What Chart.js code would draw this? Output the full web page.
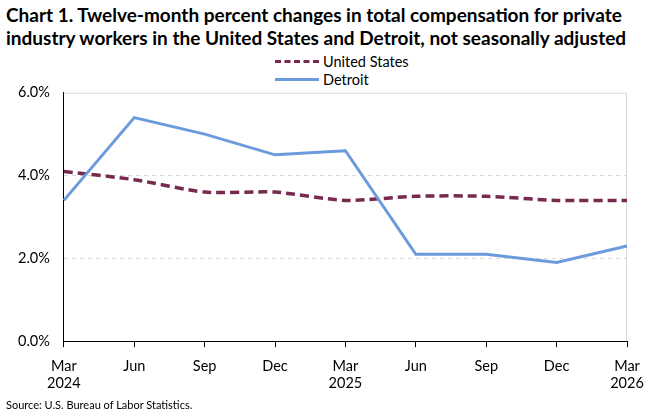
<!DOCTYPE html>
<html>
<head>
<meta charset="utf-8">
<script src="https://cdn.jsdelivr.net/npm/chart.js@4.4.1/dist/chart.umd.min.js"></script>
<style>
  body { margin:0; width:668px; height:413px; background:#fff; font-family:Lato, "Open Sans", sans-serif; position:relative; overflow:hidden; }
  #title { position:absolute; left:6px; top:3px; font-weight:bold; font-size:19px; line-height:23px; color:#000; white-space:nowrap; }
  #legend { position:absolute; left:275px; top:52px; font-size:14.5px; color:#000; }
  #legend .item { display:flex; align-items:center; height:18px; }
  #legend .sw { width:44px; height:0; margin-right:4px; }
  #wrap { position:absolute; left:0; top:70px; width:668px; height:332px; }
  #source { position:absolute; left:6px; top:398px; font-size:11px; color:#000; }
</style>
</head>
<body>
<div id="title">Chart 1. Twelve-month percent changes in total compensation for private<br>industry workers in the United States and Detroit, not seasonally adjusted</div>
<div id="legend"></div>
<div id="wrap"><canvas id="chart"></canvas></div>
<div id="source">Source: U.S. Bureau of Labor Statistics.</div>
<script>
// Données
const labels = [["Mar","2024"],"Jun","Sep","Dec",["Mar","2025"],"Jun","Sep","Dec",["Mar","2026"]];
const unitedStates = [4.1, 3.9, 3.6, 3.6, 3.4, 3.5, 3.5, 3.4, 3.4];
const detroit = [3.4, 5.4, 5.0, 4.5, 4.6, 2.1, 2.1, 1.9, 2.3];
const yTicks = [0, 2, 4, 6];

const usColor = "#772a4e";
const detColor = "#6b9bdc";

// Légende
const legendEl = document.getElementById("legend");
legendEl.innerHTML =
  `<div class="item"><span class="sw" style="border-top:3.5px dashed ${usColor}"></span>United States</div>` +
  `<div class="item"><span class="sw" style="border-top:3px solid ${detColor}"></span>Detroit</div>`;

// Cadre gris haut / droite
const frame = {
  id: "frame",
  beforeDatasetsDraw(chart) {
    const { ctx, chartArea: a } = chart;
    ctx.save();
    ctx.strokeStyle = "#d9d9d9";
    ctx.lineWidth = 1;
    ctx.beginPath();
    ctx.moveTo(a.left, a.top + 0.5);
    ctx.lineTo(a.right - 0.5, a.top + 0.5);
    ctx.lineTo(a.right - 0.5, a.bottom);
    ctx.stroke();
    ctx.restore();
  }
};

new Chart(document.getElementById("chart"), {
  type: "line",
  data: {
    labels: labels,
    datasets: [
      { label: "United States", data: unitedStates, borderColor: usColor, borderWidth: 3.5, borderDash: [9, 5], pointRadius: 0, tension: 0.25, order: 2 },
      { label: "Detroit", data: detroit, borderColor: detColor, borderWidth: 3, pointRadius: 0, tension: 0, order: 1 }
    ]
  },
  options: {
    responsive: true,
    maintainAspectRatio: false,
    animation: false,
    layout: { padding: { top: 2, right: 41, left: 4, bottom: 0 } },
    plugins: { legend: { display: false }, tooltip: { enabled: false } },
    scales: {
      x: {
        offset: false,
        grid: { drawOnChartArea: false, drawTicks: true, tickLength: 6, tickColor: "#000" },
        border: { color: "#000", width: 1 },
        ticks: { color: "#000", font: { family: "Lato", size: 14.5 }, maxRotation: 0, autoSkip: false, padding: 10 }
      },
      y: {
        min: 0, max: 6,
        afterBuildTicks: (scale) => { scale.ticks = yTicks.map(v => ({ value: v })); },
        grid: { color: (c) => (c.tick && (c.tick.value === 0 || c.tick.value === 6)) ? "rgba(0,0,0,0)" : "#d9d9d9", drawTicks: false },
        border: { color: "#000", width: 1, dash: [4, 4] },
        ticks: { color: "#000", font: { family: "Lato", size: 14.5 }, padding: 14, callback: (v) => v.toFixed(1) + "%" }
      }
    }
  },
  plugins: [frame]
});
</script>
</body>
</html>
